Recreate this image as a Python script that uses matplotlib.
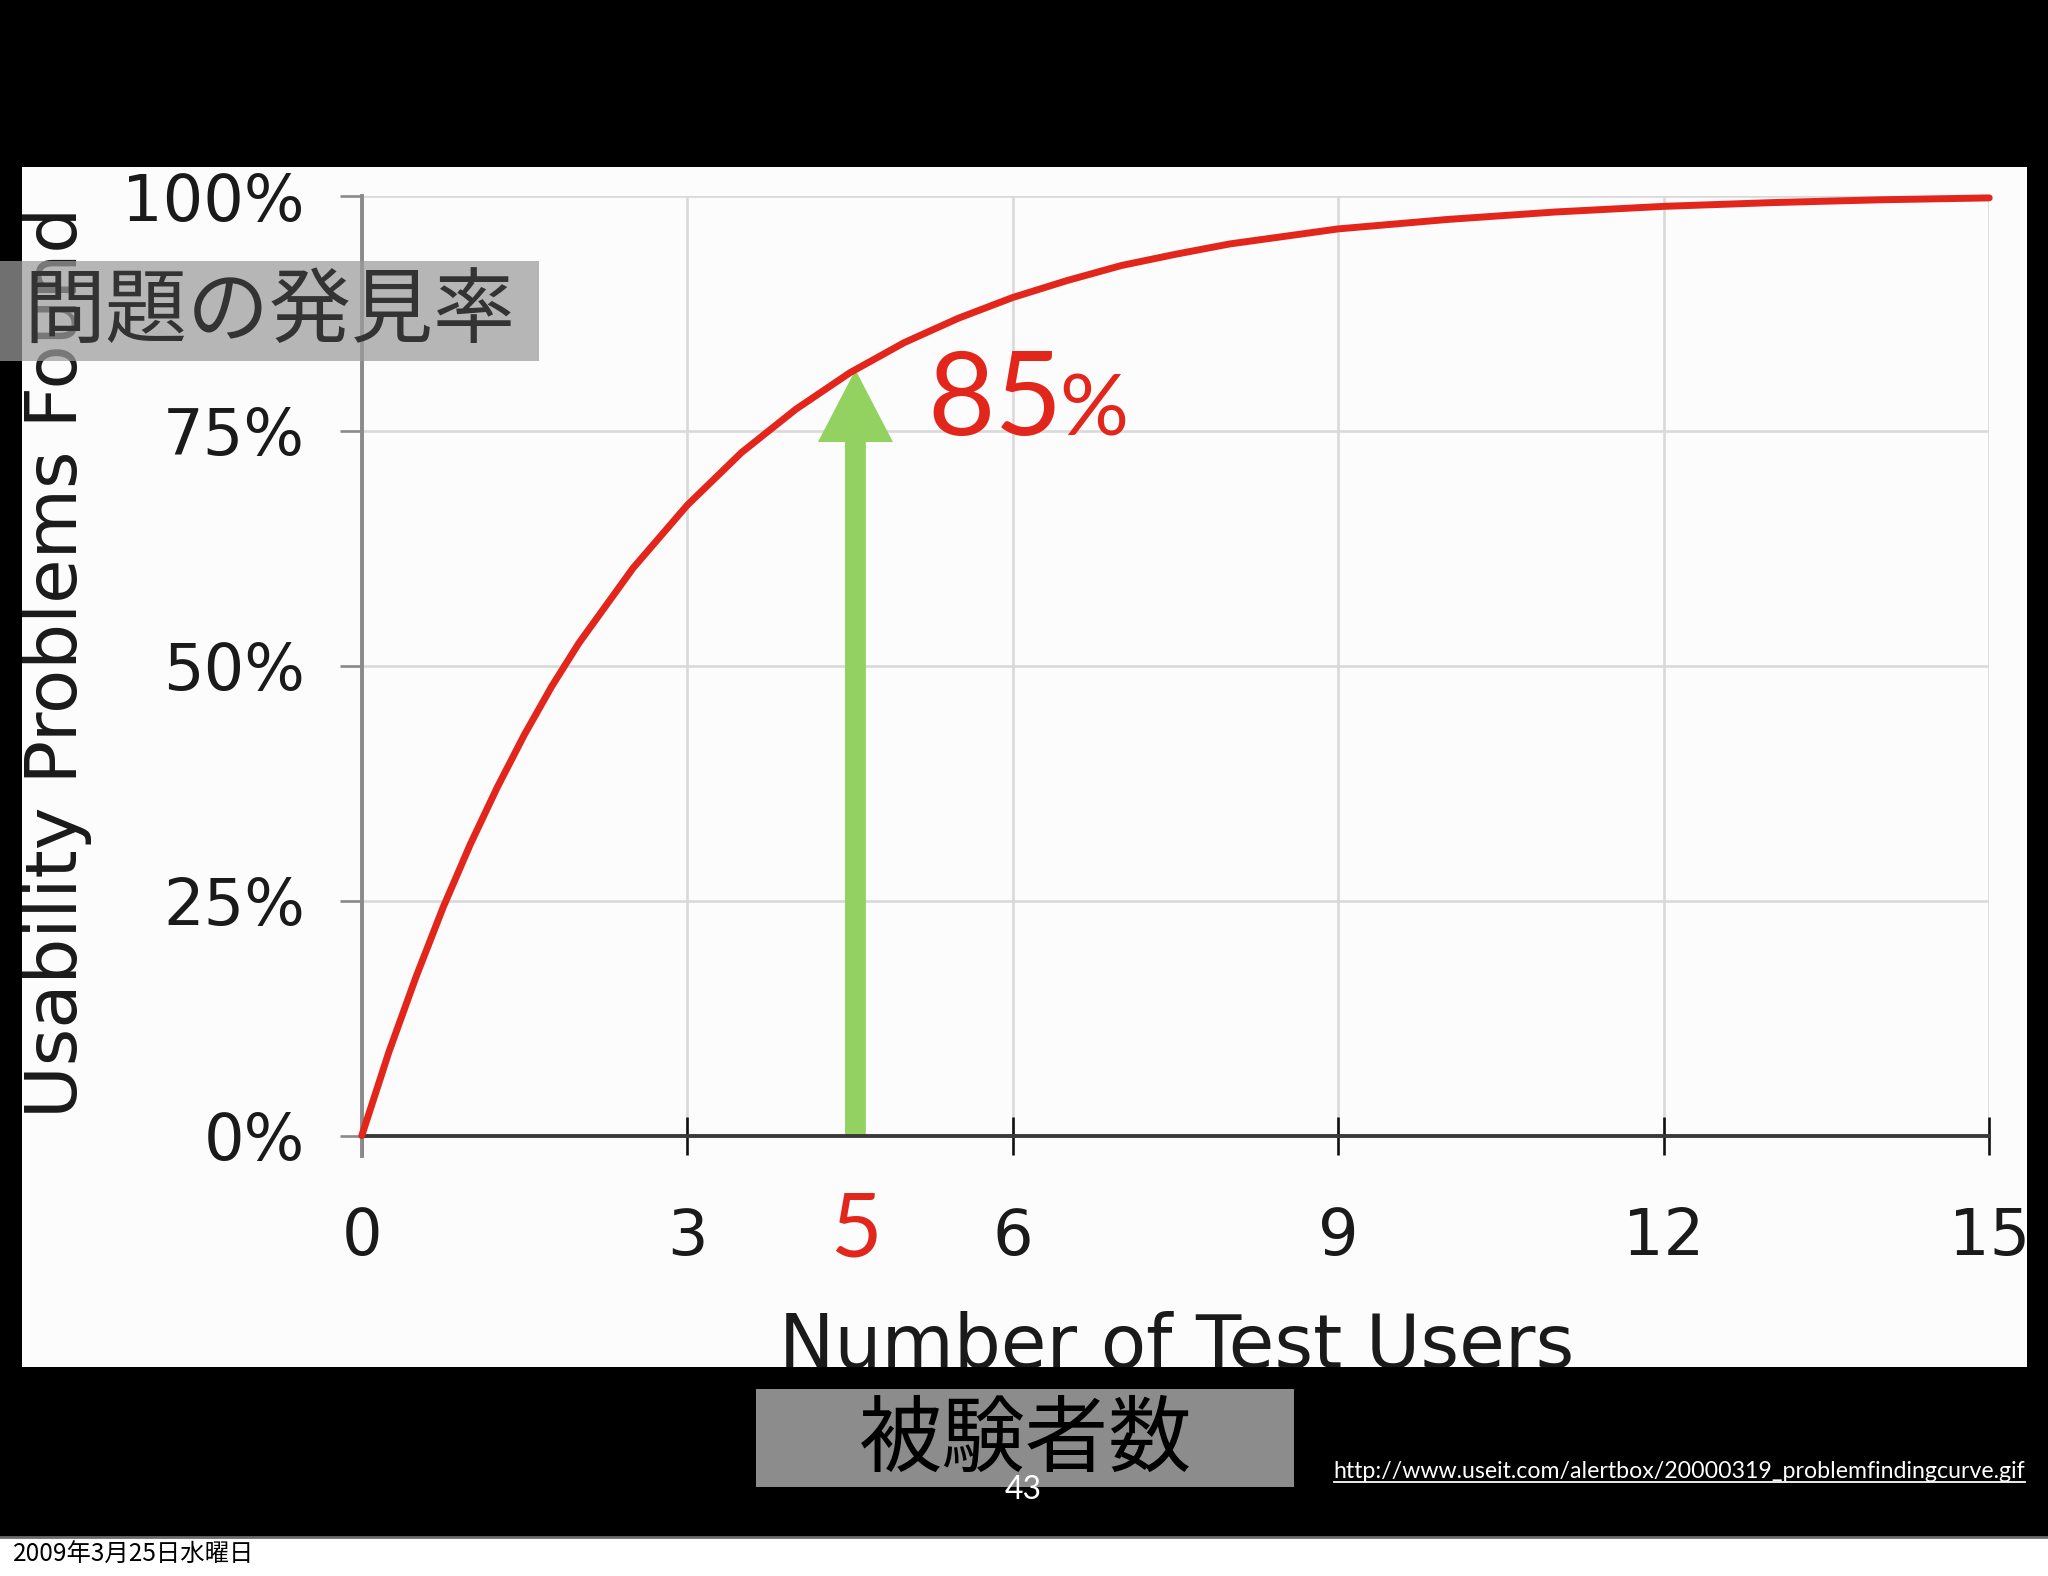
import matplotlib
matplotlib.use('Agg')
import matplotlib.pyplot as plt
from matplotlib.patches import Rectangle
from matplotlib.lines import Line2D
from matplotlib.transforms import Bbox, TransformedBbox, blended_transform_factory

# values (share of usability problems found, %)
users = [0, 0.25, 0.5, 0.75, 1, 1.25, 1.5, 1.75, 2, 2.5, 3, 3.5, 4, 4.5, 5,
         5.5, 6, 6.5, 7, 7.5, 8, 8.5, 9, 9.5, 10, 11, 12, 13, 14, 15]
found = [0, 8.9, 16.9, 24.3, 31.0, 37.1, 42.7, 47.8, 52.4, 60.4, 67.1, 72.7,
         77.3, 81.2, 84.4, 87.0, 89.2, 91.0, 92.6, 93.8, 94.9, 95.7, 96.5,
         97.0, 97.5, 98.3, 98.9, 99.3, 99.6, 99.8]
x_ticks = [0, 3, 6, 9, 12, 15]
y_ticks = [0, 25, 50, 75, 100]
y_labels = ['0%', '25%', '50%', '75%', '100%']
arrow_x = 4.55
arrow_top = 81.5
jp_title = '問題の発見率'
jp_xlabel = '被験者数'
source_url = 'http://www.useit.com/alertbox/20000319_problemfindingcurve.gif'
date_text = '2009年3月25日水曜日'

# layout helpers: positions measured on a 1568 x 1206 view of the slide
W, H = 1568, 1206
S = 2048 / W


def fx(x):
    return x / W


def fy(y):
    return 1 - y / H


RED = '#e3261b'
GREEN = '#93d160'
JP = ['Noto Sans CJK JP', 'DejaVu Sans']

fig = plt.figure(figsize=(20.48, 15.76), dpi=100, facecolor='black')

# white picture of the original chart
white = Rectangle((fx(17), fy(1046)), fx(1552) - fx(17), fy(128) - fy(1046),
                  transform=fig.transFigure, fc='#fdfcfd', ec='none', zorder=0)
fig.add_artist(white)
clip = TransformedBbox(Bbox([[fx(17), fy(1046)], [fx(1552), fy(128)]]), fig.transFigure)

# bottom white strip with the date
fig.add_artist(Rectangle((0, 0), 1, fy(1177), transform=fig.transFigure,
                         fc='white', ec='none', zorder=0))
fig.add_artist(Line2D([0, 1], [fy(1176.5), fy(1176.5)], transform=fig.transFigure,
                      color='#6a6a6a', lw=2, zorder=1))

ax = fig.add_axes([fx(277), fy(869), fx(1523) - fx(277), fy(150) - fy(869)])
ax.set_zorder(2)
ax.patch.set_visible(False)
ax.set_xlim(0, 15)
ax.set_ylim(0, 100)
ax.set_xticks(x_ticks)
ax.set_yticks(y_ticks)
ax.set_yticklabels(y_labels)
ax.grid(True, color='#d9d9d9', lw=1.9)
ax.set_axisbelow(True)
for side in ['top', 'right']:
    ax.spines[side].set_visible(False)
ax.spines['left'].set_color('#8a8a8a')
ax.spines['left'].set_linewidth(2.8)
ax.spines['left'].set_bounds(-2.2, 100)
ax.spines['bottom'].set_color('#3a3a3a')
ax.spines['bottom'].set_linewidth(2.8)
ax.tick_params(axis='x', direction='inout', length=28, width=1.9, color='#111111',
               pad=37, labelsize=46, labelcolor='#1a1a1a')
ax.tick_params(axis='y', direction='out', length=16, width=1.9, color='#8a8a8a',
               pad=25, labelsize=46, labelcolor='#1a1a1a')
for lab in ax.get_xticklabels() + ax.get_yticklabels():
    lab.set_clip_on(True)
    lab.set_clip_box(clip)

ax.plot(users, found, color=RED, lw=5, zorder=3, clip_on=False,
        solid_capstyle='round', solid_joinstyle='round')

ax.annotate('', xy=(arrow_x, arrow_top), xytext=(arrow_x, 0),
            arrowprops=dict(width=15, headwidth=54, headlength=52, shrink=0,
                            fc=GREEN, ec='none'), zorder=2)

# axis titles of the original picture, cut by its edges
t = fig.text(fx(44), fy(507), 'Usability Problems Found', rotation=90,
             ha='center', va='center', fontsize=52, color='#1a1a1a', zorder=3)
t.set_clip_box(clip)
t = fig.text(fx(901), fy(1003), 'Number of Test Users', ha='center', va='top',
             fontsize=53.5, color='#1a1a1a', zorder=3)
t.set_clip_box(clip)

# slide annotations
fig.add_artist(Rectangle((0, fy(276)), fx(413), fy(200) - fy(276),
                         transform=fig.transFigure, fc='#9c9c9c', ec='none',
                         alpha=0.72, zorder=10))
fig.text(fx(18), fy(239), jp_title, ha='left', va='center', fontsize=59,
         color='#333333', family=JP, zorder=11)

fig.add_artist(Rectangle((fx(579), fy(1138)), fx(991) - fx(579), fy(1063) - fy(1138),
                         transform=fig.transFigure, fc='#8c8c8c', ec='none', zorder=10))
fig.text(fx(785), fy(1102), jp_xlabel, ha='center', va='center', fontsize=60,
         color='black', family=JP, zorder=11)
fig.text(fx(783), fy(1140), '43', ha='center', va='center', fontsize=23,
         color='white', family='Lato', zorder=12)

big = fig.text(fx(710), fy(333), '85', ha='left', va='baseline', fontsize=84,
               color=RED, family='Lato', zorder=12)
five = ax.text(arrow_x, fy(942), '5', ha='center', va='center', fontsize=64,
               color=RED, family='Lato', zorder=12,
               transform=blended_transform_factory(ax.transData, fig.transFigure))

url = fig.text(fx(1021), fy(1131), source_url, ha='left', va='baseline',
               fontsize=16, color='white', family='Lato', zorder=12)
date = fig.text(fx(10), fy(1190), date_text, ha='left', va='center',
                fontsize=14, color='black', family=JP, zorder=12)

fig.canvas.draw()
r = fig.canvas.get_renderer()
for txt, target in [(url, 529), (date, 185)]:
    bb = txt.get_window_extent(renderer=r)
    txt.set_fontsize(txt.get_fontsize() * target * S / bb.width)
fig.canvas.draw()

bb = big.get_window_extent(renderer=r)
fig.text(bb.x1 / 2048 - fx(3), fy(333), '%', ha='left', va='baseline',
         fontsize=62, color=RED, family='Lato', zorder=12)

bb = url.get_window_extent(renderer=r)
fig.add_artist(Line2D([bb.x0 / 2048, bb.x1 / 2048], [fy(1134), fy(1134)],
                      transform=fig.transFigure, color='white', lw=1.3, zorder=12))

fig.savefig('out.png', dpi=100, facecolor='black')
